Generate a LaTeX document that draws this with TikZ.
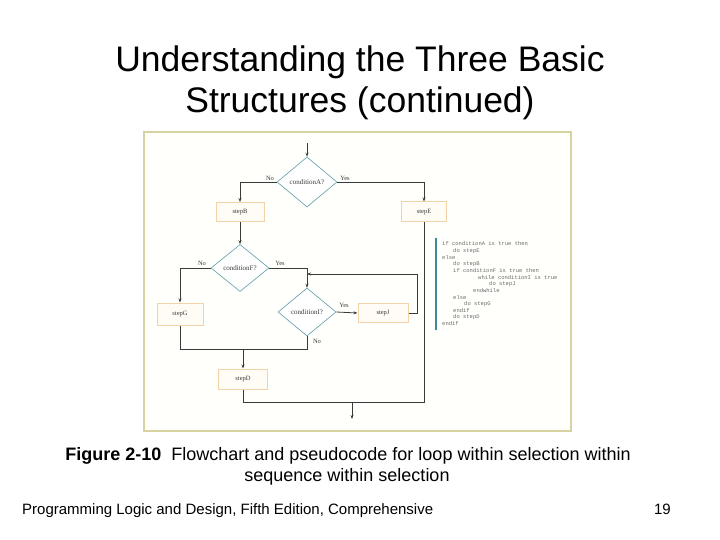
\documentclass[tikz,border=0pt]{standalone}
\usepackage{fontspec}
\setmainfont{Liberation Sans}
\newfontfamily\serifx{Liberation Serif}
\newfontfamily\monox{Liberation Mono}
\usetikzlibrary{shapes.geometric,arrows.meta}
\definecolor{framec}{HTML}{D6D3A0}
\definecolor{framefill}{HTML}{FFFFFC}
\definecolor{boxc}{HTML}{F2D2A8}
\definecolor{boxfill}{HTML}{FFFCF6}
\definecolor{diac}{HTML}{5E9CA8}
\definecolor{linec}{HTML}{3A3A3A}
\definecolor{barc}{HTML}{3F8A98}
\definecolor{codec}{HTML}{6A6A6A}
\begin{document}
\begin{tikzpicture}[x=1pt,y=-1pt,
  stepbox/.style={draw=boxc,line width=1pt,fill=boxfill,inner sep=0pt,
    font=\serifx\fontsize{6.5}{7}\selectfont,text=linec},
  decide/.style={diamond,draw=diac,line width=0.6pt,fill=white,inner sep=0pt,aspect=1.2,
    font=\serifx\fontsize{7}{8}\selectfont,text=linec},
  flow/.style={draw=linec,line width=0.8pt},
  arr/.style={flow,-{Stealth[length=4pt,width=3pt]}},
  lbl/.style={font=\serifx\fontsize{6.5}{7}\selectfont,text=linec,inner sep=0pt},
  code/.style={font=\monox\fontsize{5.5}{6}\selectfont,text=codec,anchor=west,inner sep=0pt},
  titlef/.style={font=\fontsize{35.5}{40}\selectfont,anchor=base,inner sep=0pt}
]
\useasboundingbox (0,0) rectangle (720,540);
\fill[white] (0,0) rectangle (720,540);

% title
\node[titlef] (t1) at (360,72) {Understanding the Three Basic};
\node[titlef] (t2) at (360,113) {Structures (continued)};

% frame
\draw[draw=framec,fill=framefill,line width=1.2pt] (144,132) rectangle (571,431);

% decisions
\node[decide,minimum width=60pt,minimum height=50pt] (A) at (307,182) {conditionA?};
\node[decide,minimum width=58pt,minimum height=47pt] (F) at (240,268) {conditionF?};
\node[decide,minimum width=58pt,minimum height=48pt] (I) at (307,312) {conditionI?};

% steps
\node[stepbox,minimum width=48pt,minimum height=19pt] (B) at (240,212) {stepB};
\node[stepbox,minimum width=45pt,minimum height=20pt] (E) at (424,212) {stepE};
\node[stepbox,minimum width=46pt,minimum height=22pt] (G) at (180,314) {stepG};
\node[stepbox,minimum width=50pt,minimum height=19pt] (J) at (383,313) {stepJ};
\node[stepbox,minimum width=49pt,minimum height=20pt] (D) at (243,379) {stepD};

% coordinates
\coordinate (in) at (307,143);
\coordinate (loopR) at (417,274);
\coordinate (loopE) at (307,274);
\coordinate (m1) at (307,349);
\coordinate (m2) at (243,349);
\coordinate (m3) at (424,402);
\coordinate (ex1) at (352,402);
\coordinate (ex2) at (352,419);

% connectors
\draw[arr] (in) -- (A.north);
\draw[arr] (A.west) -| (B.north);
\draw[arr] (A.east) -| (E.north);
\draw[arr] (B.south) -- (F.north);
\draw[arr] (F.west) -| (G.north);
\draw[arr] (F.east) -| (I.north);
\draw[arr] (I.east) -- (J.west);
\draw[arr] (J.east) -| (loopR) -- (loopE);
\draw[flow] (I.south) -- (m1) -| (G.south);
\draw[arr] (m2) -- (D.north);
\draw[flow] (D.south) |- (m3) -- (E.south);
\draw[arr] (ex1) -- (ex2);

% labels
\node[lbl] (nA) at (270,178) {No};
\node[lbl] (yA) at (345,178) {Yes};
\node[lbl] (nF) at (202,263) {No};
\node[lbl] (yF) at (280,263) {Yes};
\node[lbl] (yI) at (344,305) {Yes};
\node[lbl] (nI) at (317,341) {No};

% pseudocode
\draw[barc,line width=1.5pt] (436,238) -- (436,330);
\node[code] (c1) at (442,244.0) {if conditionA is true then};
\node[code] (c2) at (453,250.7) {do stepE};
\node[code] (c3) at (442,257.3) {else};
\node[code] (c4) at (453,264.0) {do stepB};
\node[code] (c5) at (453,270.7) {if conditionF is true then};
\node[code] (c6) at (478,277.3) {while conditionI is true};
\node[code] (c7) at (489,284.0) {do stepJ};
\node[code] (c8) at (473,290.7) {endwhile};
\node[code] (c9) at (453,297.3) {else};
\node[code] (c10) at (464,304.0) {do stepG};
\node[code] (c11) at (453,310.7) {endif};
\node[code] (c12) at (453,317.3) {do stepD};
\node[code] (c13) at (442,324.0) {endif};

% caption
\node[font=\fontsize{18}{20}\selectfont,anchor=base,inner sep=0pt] (cap1) at (348,460)
  {\textbf{Figure 2-10}\ \ Flowchart and pseudocode for loop within selection within};
\node[font=\fontsize{18}{20}\selectfont,anchor=base,inner sep=0pt] (cap2) at (347,481)
  {sequence within selection};

% footer
\node[font=\fontsize{15}{17}\selectfont,anchor=base west,inner sep=0pt] (foot) at (22,514)
  {Programming Logic and Design, Fifth Edition, Comprehensive};
\node[font=\fontsize{15}{17}\selectfont,anchor=base east,inner sep=0pt] (pg) at (671,514) {19};
\end{tikzpicture}
\end{document}
